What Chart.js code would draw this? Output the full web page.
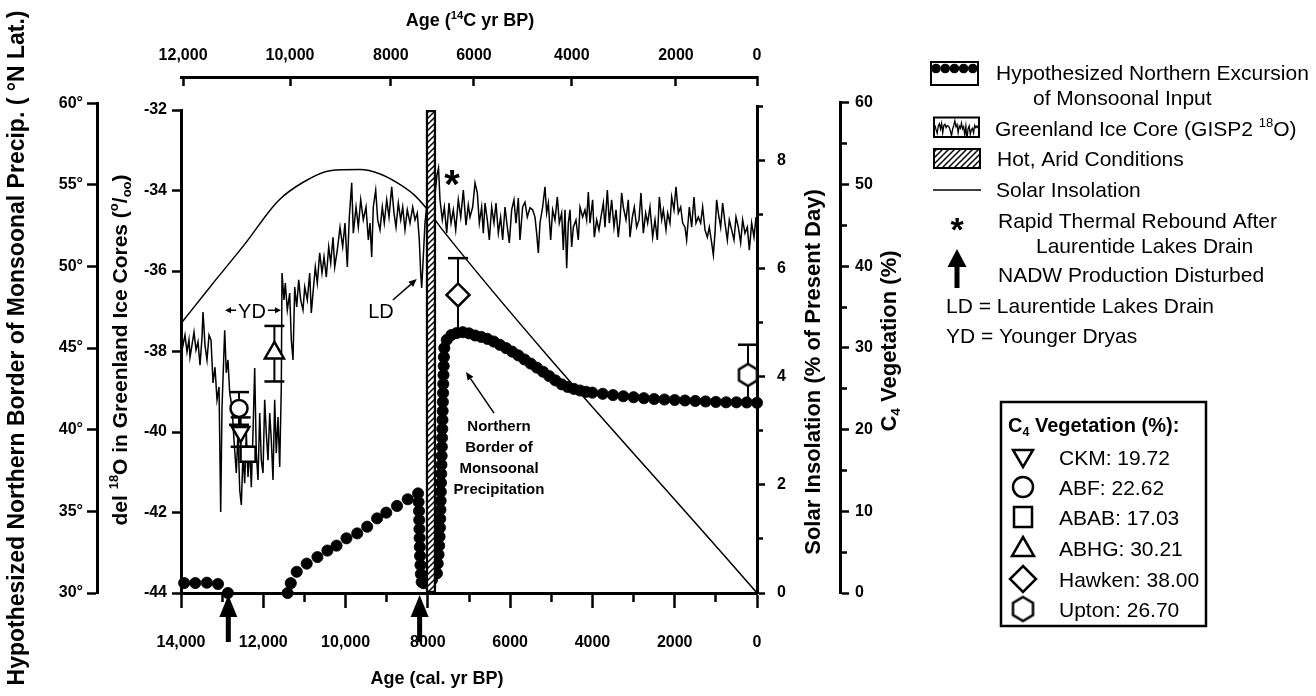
<!DOCTYPE html>
<html>
<head>
<meta charset="utf-8">
<title>Monsoonal input, GISP2, insolation and C4 vegetation</title>
<script src="https://cdn.jsdelivr.net/npm/chart.js@4/dist/chart.umd.min.js"></script>
<style>
html,body{margin:0;padding:0;background:#fff;overflow:hidden;}
canvas{display:block;}
</style>
</head>
<body>
<canvas id="chart" width="1316" height="696"></canvas>
<script>
// ================= DATA =================
// Bottom axis (cal. yr BP)
const calTickValues = [14000,13000,12000,11000,10000,9000,8000,7000,6000,5000,4000,3000,2000,1000,0];
const calTickLabels = ['14,000','','12,000','','10,000','','8000','','6000','','4000','','2000','','0'];
// Top axis (14C yr BP), positions expressed in cal. yr BP
const c14TickPositions = [13950,11350,8900,6880,4500,1970,0];
const c14TickLabels = ['12,000','10,000','8000','6000','4000','2000','0'];
// Y axes ticks
const latTicks = [30,35,40,45,50,55,60];
const delTicks = [-44,-42,-40,-38,-36,-34,-32];
const solarTicks = [0,1,2,3,4,5,6,7,8,9];
const c4Ticks = [0,5,10,15,20,25,30,35,40,45,50,55,60];

// Greenland ice core GISP2 del18O (age cal yr BP, per mil)
const gispAge = [
  14000,13951,13903,13854,13806,13781,13733,13684,13635,13587,13538,13490,13465,13417,13368,13319,13271,
  13222,13174,13125,13076,13035,13003,12938,12899,12858,12816,12760,12712,
  12656,12615,12573,12534,12493,12452,12413,12371,12330,12291,
  12250,12209,12170,12128,12087,12048,12007,11966,11927,11885,
  11844,11805,11764,11723,11684,11642,11601,11562,
  11545,11497,11465,11416,11358,11319,11278,11236,11188,11139,
  11091,11035,10993,10930,10872,10833,10792,10736,10687,10629,
  10573,10524,10468,10410,10361,10305,10264,10201,
  10135,10070,10014,9958,9909,9851,9812,9746,9690,9632,
  9569,9503,9447,9406,9365,9326,9268,9219,9163,9107,
  9059,9000,8944,8879,8823,8774,8718,8660,8611,8556,
  8500,8434,8368,8312,8257,8208,8174,8150,8111,8070,
  8028,7973,7900,7827,7778,7741,7705,7649,7600,7542,
  7486,7437,7381,7323,7260,7201,7138,7073,7017,
  6976,6911,6854,6798,6749,6692,6652,6611,6555,6506,
  6449,6393,6344,6287,6231,6182,6125,6069,6020,5963,
  5907,5858,5801,5761,5696,5639,5583,5518,5453,5396,
  5356,5315,5275,5210,5153,5113,5072,5015,4967,4910,
  4853,4805,4748,4708,4667,4626,4586,4545,4505,4464,
  4400,4343,4302,4238,4181,4140,4100,4059,3995,3954,
  3897,3841,3792,3735,3695,3638,3589,3533,3476,3427,
  3371,3330,3290,3249,3184,3128,3087,3030,2982,2925,
  2868,2820,2763,2706,2658,2601,2536,2479,2423,2374,
  2317,2277,2212,2172,2115,2074,2018,1969,1912,1855,
  1807,1750,1710,1645,1588,1532,1483,1426,1369,1321,
  1264,1207,1159,1102,1061,1021,981,940,883,835,
  778,721,673,616,559,511,454,397,349,292,
  235,186,130,73,24
];
const gispDel = [
  -37.47,-37.84,-37.59,-38.01,-37.71,-38.14,-37.84,-37.52,-37.96,-37.76,-38.34,-37.66,-37.02,-37.84,-38.21,-37.59,-37.71,
  -38.78,-38.39,-39.20,-38.88,-41.99,-39.38,-37.47,-38.53,-38.21,-39.03,-39.38,-40.20,
  -41.02,-40.02,-41.44,-41.81,-40.52,-41.27,-40.02,-41.12,-40.37,-41.37,
  -40.02,-38.41,-40.52,-41.19,-39.53,-40.70,-41.02,-39.20,-40.02,-40.70,
  -39.53,-40.20,-41.19,-39.20,-40.52,-39.63,-40.87,-38.88,
  -36.05,-36.72,-36.30,-36.97,-36.55,-37.71,-38.21,-36.40,-36.89,-36.22,
  -36.72,-36.97,-36.40,-36.72,-36.05,-37.04,-36.55,-35.90,-36.30,-35.55,
  -36.05,-35.65,-36.15,-35.40,-35.80,-35.16,-35.90,-35.48,
  -34.91,-35.40,-34.81,-35.90,-34.66,-33.81,-35.06,-34.41,-34.91,-34.23,
  -34.73,-34.41,-35.23,-34.81,-35.65,-34.41,-33.99,-34.73,-34.98,-34.41,
  -34.81,-34.23,-34.66,-33.91,-34.56,-34.91,-34.31,-34.73,-34.41,-34.98,
  -34.48,-34.81,-34.41,-34.73,-34.56,-35.23,-36.05,-36.42,-35.65,-34.81,
  -34.41,-34.23,-34.36,-34.11,-33.61,-33.44,-34.23,-34.73,-34.41,-35.06,
  -34.31,-34.81,-34.48,-34.98,-34.23,-34.66,-33.99,-34.86,-34.36,
  -34.66,-34.41,-33.81,-34.06,-34.81,-34.41,-35.06,-34.31,-34.73,-35.23,
  -34.41,-34.81,-34.31,-35.06,-34.66,-35.23,-34.41,-34.91,-35.30,-34.48,
  -34.23,-34.81,-34.19,-35.23,-34.41,-34.29,-34.66,-34.43,-34.48,-34.66,
  -35.06,-35.55,-34.81,-34.41,-33.91,-34.56,-34.31,-35.23,-34.48,-34.73,
  -34.16,-34.81,-34.56,-35.48,-34.48,-35.93,-34.81,-34.48,-35.40,-34.91,
  -34.73,-35.23,-34.41,-34.66,-34.48,-34.73,-34.04,-34.81,-34.23,-35.16,
  -34.73,-34.98,-34.66,-34.31,-34.91,-33.99,-34.81,-34.23,-34.91,-34.48,
  -35.16,-34.73,-34.06,-34.41,-34.73,-34.23,-35.16,-34.66,-34.41,-34.91,
  -34.73,-34.06,-35.06,-34.56,-34.81,-34.41,-35.16,-34.73,-35.23,-34.16,
  -34.73,-34.48,-34.98,-34.56,-34.81,-34.16,-34.48,-33.91,-34.56,-34.41,
  -34.81,-34.91,-35.23,-34.41,-34.91,-34.16,-34.81,-34.66,-34.81,-34.41,
  -34.98,-35.16,-34.91,-35.30,-35.60,-35.06,-34.23,-34.56,-34.91,-34.31,
  -34.81,-35.23,-34.73,-34.98,-35.23,-34.66,-34.91,-35.30,-34.73,-35.06,
  -34.91,-35.48,-34.81,-35.16,-34.66
];

// Solar insolation (% of present day)
const solarAge = [14000,13270,12450,11640,11000,10380,9650,9160,8750,8360,8020,7630,0];
const solarPct = [4.99,5.69,6.46,7.26,7.62,7.82,7.84,7.76,7.60,7.39,7.11,6.71,0];

// Hypothesized northern border of monsoonal precipitation (deg N)
const monsoonAge = [
  13923,13652,13372,13101,12860,
  11409,11332,11187,10945,10684,10442,10220,9978,9717,9475,9234,9011,8750,8489,8238,
  8225,8215,8210,8205,8200,8195,8190,8180,8170,8150,
  8100,8000,7900,7780,
  7760,7740,7725,7715,7705,7700,7695,7690,7685,7680,7675,7670,7665,7660,7655,7650,7645,7640,7635,7630,7625,7620,7615,7610,7600,
  7540,7430,7300,7150,7000,6850,6700,6550,6400,6250,6100,5950,5800,5650,5500,5350,5200,5050,4900,4750,
  4600,4450,4300,4150,4000,3750,3500,3250,3000,2750,2500,2250,2000,1750,1500,1250,1000,750,500,250,0
];
const monsoonLat = [
  30.61,30.61,30.63,30.55,30.0,
  30.0,30.6,31.3,31.8,32.2,32.6,32.9,33.35,33.65,34.06,34.57,34.92,35.33,35.74,36.1,
  35.57,35.02,34.47,33.92,33.37,32.82,32.27,31.71,31.16,30.67,
  30.6,30.65,30.8,31.2,
  31.8,32.35,32.9,33.45,34.0,34.55,35.1,35.65,36.2,36.75,37.3,37.85,38.4,38.95,39.5,40.05,40.6,41.15,41.7,42.25,42.8,43.35,43.9,44.45,45.0,
  45.5,45.8,45.92,45.97,45.9,45.77,45.68,45.56,45.4,45.2,45.0,44.78,44.55,44.3,44.05,43.8,43.55,43.28,43.02,42.78,
  42.62,42.5,42.4,42.32,42.27,42.2,42.12,42.05,41.99,41.93,41.88,41.85,41.82,41.79,41.76,41.73,41.7,41.68,41.68,41.67,41.65
];

// Hot, arid conditions (age cal yr BP, del18O extent)
const aridAge = [7925];
const aridDelRange = [[-44, -32]];

// C4 vegetation sites
const c4Sites = ['CKM','ABF','ABAB','ABHG','Hawken','Upton'];
const c4Values = [19.72,22.62,17.03,30.21,38.00,26.70];
const c4PlotAge = [12550,12590,12370,11730,7267,219];
const c4PlotPct = [19.7,22.6,17.0,29.4,36.5,26.7];
const c4ErrLow  = [17.9,20.6,null,25.9,32.0,23.0];
const c4ErrHigh = [21.5,24.6,null,32.7,41.0,30.4];
const c4ErrLowCap = [true,true,false,true,false,false];

// NADW production disturbed (cal yr BP)
const nadwAges = [12850, 8200];

// ================= STYLE HELPERS =================
const FONT = '"Liberation Sans", Arial, Helvetica, sans-serif';
Chart.defaults.font.family = FONT;
Chart.defaults.color = '#000';

const canvas = document.getElementById('chart');
const mainCtx = canvas.getContext('2d');

function makeHatch() {
  const pc = document.createElement('canvas');
  pc.width = 6; pc.height = 6;
  const p = pc.getContext('2d');
  p.fillStyle = '#fff'; p.fillRect(0, 0, 6, 6);
  p.strokeStyle = '#000'; p.lineWidth = 1.5;
  p.beginPath();
  p.moveTo(0, 6); p.lineTo(6, 0);
  p.moveTo(-1, 1); p.lineTo(1, -1);
  p.moveTo(5, 7); p.lineTo(7, 5);
  p.stroke();
  return mainCtx.createPattern(pc, 'repeat');
}
const hatch = makeHatch();

function hexImage(w, h, lw) {
  const c = document.createElement('canvas');
  c.width = Math.ceil(w + lw * 2 + 2); c.height = Math.ceil(h + lw * 2 + 2);
  const g = c.getContext('2d');
  const cx = c.width / 2, cy = c.height / 2;
  g.beginPath();
  g.moveTo(cx, cy - h / 2); g.lineTo(cx + w / 2, cy - h / 4); g.lineTo(cx + w / 2, cy + h / 4);
  g.lineTo(cx, cy + h / 2); g.lineTo(cx - w / 2, cy + h / 4); g.lineTo(cx - w / 2, cy - h / 4);
  g.closePath();
  g.fillStyle = '#fff'; g.fill();
  g.lineWidth = lw; g.strokeStyle = '#000'; g.stroke();
  return c;
}
const hexPlot = hexImage(18, 22, 2.5);
const hexLegend = hexImage(20, 24, 2.5);

function setFont(ctx, size, weight) { ctx.font = (weight || 'normal') + ' ' + size + 'px ' + FONT; }

function drawRich(ctx, runs, x, y, size, weight, align, rot) {
  ctx.save();
  ctx.translate(x, y);
  if (rot) ctx.rotate(rot);
  const parts = runs.map(r => {
    const s = (typeof r === 'string') ? { t: r } : r;
    const fs = (s.sup || s.sub) ? size * 0.62 : size;
    setFont(ctx, fs, weight);
    return Object.assign({}, s, { fs: fs, w: ctx.measureText(s.t).width });
  });
  const total = parts.reduce((a, p) => a + p.w, 0);
  let cx = align === 'center' ? -total / 2 : (align === 'right' ? -total : 0);
  ctx.fillStyle = '#000'; ctx.textAlign = 'left'; ctx.textBaseline = 'alphabetic';
  const base = size * 0.36;
  for (const p of parts) {
    setFont(ctx, p.fs, weight);
    let dy = base;
    if (p.sup) dy = base - size * 0.4;
    if (p.sub) dy = base + size * 0.2;
    ctx.fillText(p.t, cx, dy);
    cx += p.w;
  }
  ctx.restore();
  return total;
}

function drawArrow(ctx, x1, y1, x2, y2, headLen, headW, lw) {
  const ang = Math.atan2(y2 - y1, x2 - x1);
  const bx = x2 - Math.cos(ang) * headLen, by = y2 - Math.sin(ang) * headLen;
  ctx.lineWidth = lw; ctx.strokeStyle = '#000'; ctx.fillStyle = '#000';
  ctx.beginPath(); ctx.moveTo(x1, y1); ctx.lineTo(bx, by); ctx.stroke();
  ctx.beginPath(); ctx.moveTo(x2, y2);
  ctx.lineTo(bx + Math.sin(ang) * headW / 2, by - Math.cos(ang) * headW / 2);
  ctx.lineTo(bx - Math.sin(ang) * headW / 2, by + Math.cos(ang) * headW / 2);
  ctx.closePath(); ctx.fill();
}

function drawStar(ctx, x, y, size) {
  setFont(ctx, size, 'bold');
  ctx.fillStyle = '#000'; ctx.textAlign = 'center'; ctx.textBaseline = 'alphabetic';
  ctx.fillText('*', x, y + size * 0.58);
}

function legendSymbol(ctx, kind, x, y) {
  ctx.save();
  ctx.lineWidth = 2.5; ctx.strokeStyle = '#000'; ctx.fillStyle = '#fff';
  ctx.beginPath();
  if (kind === 'triDown') {
    ctx.moveTo(x - 10, y - 7); ctx.lineTo(x + 10, y - 7); ctx.lineTo(x, y + 10); ctx.closePath();
  } else if (kind === 'circle') {
    ctx.arc(x, y, 10, 0, Math.PI * 2);
  } else if (kind === 'square') {
    ctx.rect(x - 9, y - 10, 18, 20);
  } else if (kind === 'triUp') {
    ctx.moveTo(x, y - 11); ctx.lineTo(x + 11, y + 8); ctx.lineTo(x - 11, y + 8); ctx.closePath();
  } else if (kind === 'diamond') {
    ctx.moveTo(x, y - 13); ctx.lineTo(x + 13, y); ctx.lineTo(x, y + 13); ctx.lineTo(x - 13, y); ctx.closePath();
  }
  if (kind === 'hex') {
    ctx.drawImage(hexLegend, x - hexLegend.width / 2, y - hexLegend.height / 2);
  } else {
    ctx.fill(); ctx.stroke();
  }
  ctx.restore();
}

// ================= ANNOTATION / LEGEND PLUGIN =================
const annotationPlugin = {
  id: 'annotations',
  afterLayout(chart) {
    // start each vertical axis line at its top tick, as in the original figure
    const s = chart.scales;
    s.lat.top = s.lat.getPixelForValue(latTicks[latTicks.length - 1]);
    s.del.top = s.del.getPixelForValue(delTicks[delTicks.length - 1]);
    s.solar.top = s.solar.getPixelForValue(solarTicks[solarTicks.length - 1]);
    s.c4.top = s.c4.getPixelForValue(c4Ticks[c4Ticks.length - 1]);
  },
  afterDraw(chart) {
    const ctx = chart.ctx;
    const s = chart.scales;
    const X = v => s.x.getPixelForValue(v);
    const D = v => s.del.getPixelForValue(v);
    ctx.save();

    // ---- axis titles ----
    drawRich(ctx, ['Hypothesized Northern Border of Monsoonal Precip. ( °N Lat.)'], s.lat.left + 16, 348, 23, 'bold', 'center', -Math.PI / 2);
    drawRich(ctx, ['del ', { t: '18', sup: 1 }, 'O in Greenland Ice Cores (', { t: 'o', sup: 1 }, '/', { t: 'oo', sub: 1 }, ')'], s.del.left + 22, 350, 21, 'bold', 'center', -Math.PI / 2);
    drawRich(ctx, ['Age (', { t: '14', sup: 1 }, 'C yr BP)'], 470, s.xTop.top + 20, 18, 'bold', 'center');
    drawRich(ctx, ['Age (cal. yr BP)'], 437, s.x.top + 85, 18, 'bold', 'center');
    drawRich(ctx, ['Solar Insolation (% of Present Day)'], s.solar.left + 55, 372, 22, 'bold', 'center', -Math.PI / 2);
    drawRich(ctx, ['C', { t: '4', sub: 1 }, ' Vegetation (%)'], s.c4.left + 48, 341, 22, 'bold', 'center', -Math.PI / 2);

    // ---- in-plot annotations (anchored with the data scales) ----
    // Younger Dryas
    const ydY = D(-37.0);
    const ydW = drawRich(ctx, ['YD'], X(12275), ydY, 20, 'normal', 'center');
    drawArrow(ctx, X(12275) - ydW / 2 - 2, ydY - 1, X(12930), ydY - 1, 6, 6, 1.5);
    drawArrow(ctx, X(12275) + ydW / 2 + 2, ydY - 1, X(11570), ydY - 1, 6, 6, 1.5);
    // Laurentide lakes drain
    drawRich(ctx, ['LD'], X(9140), D(-37.0), 20, 'normal', 'center');
    drawArrow(ctx, X(8850), D(-36.72), X(8270), D(-36.2), 8, 7, 1.5);
    // Rapid thermal rebound
    drawStar(ctx, X(7413), D(-33.61), 40);
    // Northern border text + arrow
    const nbY = D(-39.85);
    ['Northern', 'Border of', 'Monsoonal', 'Precipitation'].forEach((t, i) => {
      drawRich(ctx, [t], X(6271), nbY + i * 21, 15, 'bold', 'center');
    });
    drawArrow(ctx, X(6392), D(-39.53), X(7073), D(-38.51), 8, 7, 1.5);
    // NADW arrows below the age axis
    nadwAges.forEach(a => {
      drawArrow(ctx, X(a), s.x.top + 49, X(a), s.x.top + 2, 22, 18, 5);
    });

    // ---- legend ----
    ctx.strokeStyle = '#000'; ctx.fillStyle = '#000';
    ctx.lineWidth = 2; ctx.strokeRect(931, 62, 47, 23);
    for (let i = 0; i < 5; i++) { ctx.beginPath(); ctx.arc(936 + i * 9.2, 68.5, 4.8, 0, Math.PI * 2); ctx.fill(); }
    drawRich(ctx, ['Hypothesized Northern Excursion'], 996, 72, 21, 'normal', 'left');
    drawRich(ctx, ['of Monsoonal Input'], 1033, 97, 21, 'normal', 'left');

    ctx.lineWidth = 2; ctx.strokeRect(934, 117.5, 45, 19.5);
    const seg = gispDel.slice(160, 200);
    ctx.save();
    ctx.beginPath(); ctx.rect(934, 117.5, 45, 19.5); ctx.clip();
    ctx.lineWidth = 1.3; ctx.beginPath();
    seg.forEach((v, i) => {
      const px = 935 + i * (43 / (seg.length - 1));
      const py = 128 - (v + 34.7) * 9;
      if (i === 0) ctx.moveTo(px, py); else ctx.lineTo(px, py);
    });
    ctx.stroke();
    ctx.restore();
    drawRich(ctx, ['Greenland Ice Core (GISP2 ', { t: '18', sup: 1 }, 'O)'], 995, 128, 21, 'normal', 'left');

    ctx.fillStyle = hatch; ctx.fillRect(934, 149, 46, 19);
    ctx.lineWidth = 2; ctx.strokeStyle = '#000'; ctx.strokeRect(934, 149, 46, 19);
    ctx.fillStyle = '#000';
    drawRich(ctx, ['Hot, Arid Conditions'], 997, 158, 21, 'normal', 'left');

    ctx.lineWidth = 1.5; ctx.beginPath(); ctx.moveTo(933, 190); ctx.lineTo(981, 190); ctx.stroke();
    drawRich(ctx, ['Solar Insolation'], 996, 189, 21, 'normal', 'left');

    drawStar(ctx, 957, 221, 34);
    drawRich(ctx, ['Rapid Thermal Rebound After'], 998, 220, 21, 'normal', 'left');
    drawRich(ctx, ['Laurentide Lakes Drain'], 1036, 245, 21, 'normal', 'left');

    drawArrow(ctx, 957, 288, 957, 249, 18, 19, 5);
    drawRich(ctx, ['NADW Production Disturbed'], 998, 274, 21, 'normal', 'left');
    drawRich(ctx, ['LD = Laurentide Lakes Drain'], 946, 305, 21, 'normal', 'left');
    drawRich(ctx, ['YD = Younger Dryas'], 946, 335, 21, 'normal', 'left');

    // C4 vegetation box
    ctx.lineWidth = 2.5; ctx.strokeStyle = '#000'; ctx.strokeRect(1001, 402, 205, 224);
    drawRich(ctx, ['C', { t: '4', sub: 1 }, ' Vegetation (%):'], 1008, 425, 20, 'bold', 'left');
    const kinds = ['triDown', 'circle', 'square', 'triUp', 'diamond', 'hex'];
    const rowY = [457, 487, 517, 548, 579, 609];
    c4Sites.forEach((name, i) => {
      legendSymbol(ctx, kinds[i], 1023, rowY[i]);
      drawRich(ctx, [name + ': ' + c4Values[i].toFixed(2)], 1059, rowY[i], 21, 'normal', 'left');
    });

    ctx.restore();
  }
};

// ================= DATASETS =================
const errData = [];
c4Sites.forEach((n, i) => {
  if (c4ErrLow[i] === null) return;
  errData.push({ x: c4PlotAge[i], y: c4ErrLow[i], cap: c4ErrLowCap[i] });
  errData.push({ x: c4PlotAge[i], y: c4ErrHigh[i], cap: true });
  errData.push({ x: c4PlotAge[i], y: null });
});

const AXIS_FONT = { family: FONT, size: 16, weight: 'bold' };
const tickSet = arr => (sc => { sc.ticks = arr.map(v => ({ value: v })); });

new Chart(canvas, {
  type: 'line',
  data: {
    datasets: [
      {
        type: 'line', label: 'Greenland Ice Core (GISP2 18O)',
        data: gispAge.map((a, i) => ({ x: a, y: gispDel[i] })),
        xAxisID: 'x', yAxisID: 'del',
        borderColor: '#000', borderWidth: 1.5, pointRadius: 0, tension: 0, order: 6
      },
      {
        type: 'line', label: 'Solar Insolation',
        data: solarAge.map((a, i) => ({ x: a, y: solarPct[i] })),
        xAxisID: 'x', yAxisID: 'solar',
        borderColor: '#000', borderWidth: 1.5, pointRadius: 0, cubicInterpolationMode: 'monotone', order: 5
      },
      {
        type: 'line', label: 'Hypothesized Northern Excursion of Monsoonal Input',
        data: monsoonAge.map((a, i) => ({ x: a, y: monsoonLat[i] })),
        xAxisID: 'x', yAxisID: 'lat', showLine: false,
        pointRadius: 5.6, pointBackgroundColor: '#000', pointBorderColor: '#000', pointBorderWidth: 0.8,
        clip: false, order: 4
      },
      {
        type: 'bar', label: 'Hot, Arid Conditions',
        data: aridAge.map((a, i) => ({ x: a, y: aridDelRange[i] })),
        xAxisID: 'x', yAxisID: 'del',
        backgroundColor: hatch, borderColor: '#000', borderWidth: 2.5, borderSkipped: false,
        barThickness: 10, order: 3
      },
      {
        type: 'line', label: 'C4 error',
        data: errData, xAxisID: 'x', yAxisID: 'c4',
        borderColor: '#000', borderWidth: 2, spanGaps: false,
        pointStyle: 'line', pointRadius: c => (c.raw && c.raw.cap) ? 10 : 0,
        pointBorderColor: '#000', pointBorderWidth: 2.5, clip: false, order: 2
      },
      {
        type: 'line', label: 'C4 Vegetation (%)',
        data: c4PlotAge.map((a, i) => ({ x: a, y: c4PlotPct[i] })),
        xAxisID: 'x', yAxisID: 'c4', showLine: false,
        pointStyle: ['triangle', 'circle', 'rect', 'triangle', 'rectRot', hexPlot],
        pointRotation: [180, 0, 0, 0, 0, 0],
        pointRadius: [10, 8.5, 10.6, 11, 11.5, 10],
        pointBackgroundColor: '#fff', pointBorderColor: '#000', pointBorderWidth: 2.5,
        clip: false, order: 1
      }
    ]
  },
  options: {
    responsive: false, animation: false, devicePixelRatio: 1, events: [],
    layout: { padding: { left: 0, right: 419, top: 0, bottom: 0 } },
    plugins: { legend: { display: false }, tooltip: { enabled: false } },
    scales: {
      x: {
        type: 'linear', position: 'bottom', min: 0, max: 14000, reverse: true, offset: false, bounds: 'data',
        afterBuildTicks: tickSet(calTickValues),
        afterFit: sc => { sc.height = 103; },
        ticks: { autoSkip: false, maxRotation: 0, minRotation: 0, padding: 25, color: '#000', font: AXIS_FONT,
          callback: (v, i) => calTickLabels[i] },
        grid: { drawOnChartArea: false, offset: false, tickLength: 15, tickWidth: 2.5, tickColor: '#000',
          tickBorderDash: c => (c.index !== undefined && calTickLabels[c.index] === '') ? [7, 100] : [] },
        border: { display: true, color: '#000', width: 3 }
      },
      xTop: {
        type: 'linear', position: 'top', min: 0, max: 14000, reverse: true, offset: false, bounds: 'data',
        afterBuildTicks: tickSet(c14TickPositions),
        afterFit: sc => { sc.height = 77; },
        ticks: { autoSkip: false, maxRotation: 0, minRotation: 0, padding: 21, color: '#000', font: AXIS_FONT,
          callback: (v, i) => c14TickLabels[i] },
        grid: { drawOnChartArea: false, offset: false, tickLength: -9, tickWidth: 2.5, tickColor: '#000' },
        border: { display: true, color: '#000', width: 3 }
      },
      lat: {
        type: 'linear', position: 'left', weight: 2, min: 30, max: 61.6, bounds: 'data', beginAtZero: false,
        afterBuildTicks: tickSet(latTicks),
        afterFit: sc => { sc.width = 97; },
        ticks: { padding: 4, color: '#000', font: AXIS_FONT, callback: v => v + '°' },
        grid: { drawOnChartArea: false, tickLength: 10, tickWidth: 2.5, tickColor: '#000' },
        border: { display: true, color: '#000', width: 3 }
      },
      del: {
        type: 'linear', position: 'left', weight: 1, min: -44, max: -31.18, bounds: 'data', beginAtZero: false,
        afterBuildTicks: tickSet(delTicks),
        afterFit: sc => { sc.width = 84; },
        ticks: { padding: 5, color: '#000', font: AXIS_FONT, callback: v => String(v) },
        grid: { drawOnChartArea: false, tickLength: 9, tickWidth: 2.5, tickColor: '#000' },
        border: { display: true, color: '#000', width: 3 }
      },
      solar: {
        type: 'linear', position: 'right', weight: 1, min: 0, max: 9.555, bounds: 'data', beginAtZero: false,
        afterBuildTicks: tickSet(solarTicks),
        afterFit: sc => { sc.width = 83; },
        ticks: { padding: 12, color: '#000', font: AXIS_FONT, callback: v => (v % 2 === 0 ? String(v) : '') },
        grid: { drawOnChartArea: false, tickLength: 8, tickWidth: 2.5, tickColor: '#000',
          tickBorderDash: c => (c.tick && c.tick.value % 2 !== 0) ? [4, 100] : [] },
        border: { display: true, color: '#000', width: 3 }
      },
      c4: {
        type: 'linear', position: 'right', weight: 2, min: 0, max: 63.18, bounds: 'data', beginAtZero: false,
        afterBuildTicks: tickSet(c4Ticks),
        afterFit: sc => { sc.width = 57; },
        ticks: { padding: 6, color: '#000', font: AXIS_FONT, callback: v => (v % 10 === 0 ? String(v) : '') },
        grid: { drawOnChartArea: false, tickLength: 9, tickWidth: 2.5, tickColor: '#000',
          tickBorderDash: c => (c.tick && c.tick.value % 10 !== 0) ? [5, 100] : [] },
        border: { display: true, color: '#000', width: 3 }
      }
    }
  },
  plugins: [annotationPlugin]
});
</script>
</body>
</html>
